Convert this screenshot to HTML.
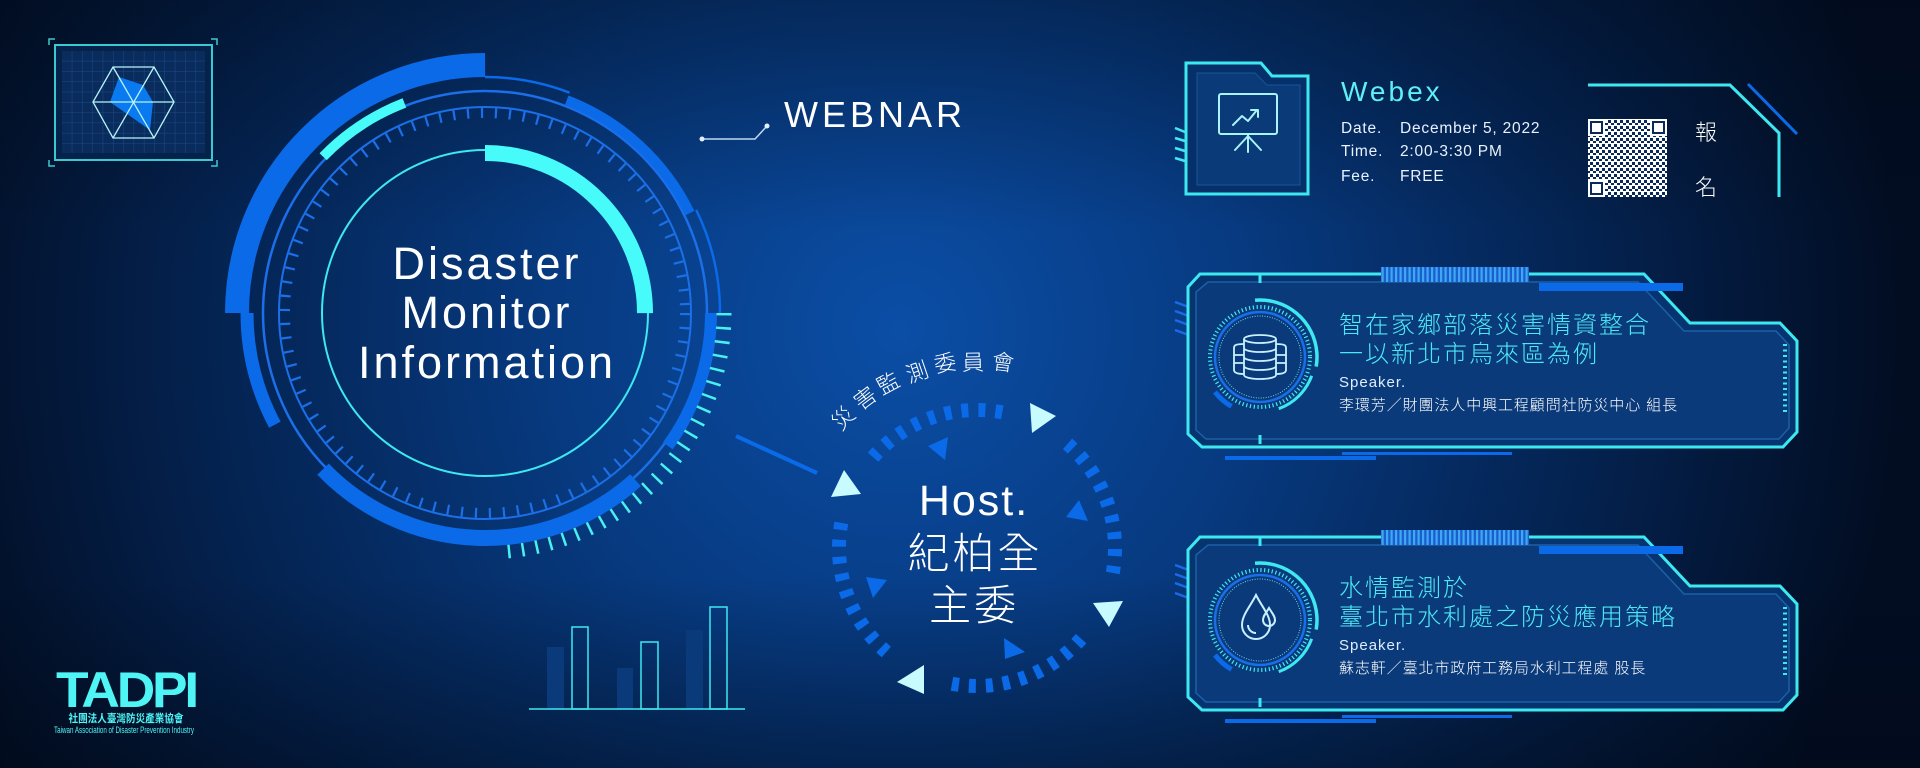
<!DOCTYPE html>
<html><head><meta charset="utf-8"><style>
html,body{margin:0;padding:0;background:#031330;}
svg{display:block}
text{font-family:"Liberation Sans","Noto Sans CJK TC",sans-serif}
.cjk{font-family:"Liberation Sans","Noto Sans CJK TC",sans-serif;font-weight:300}
</style></head><body>
<svg width="1920" height="768" viewBox="0 0 1920 768" xmlns="http://www.w3.org/2000/svg">
<defs>
<radialGradient id="bg" cx="900" cy="330" r="1000" gradientUnits="userSpaceOnUse">
<stop offset="0" stop-color="#0b4ea6"/><stop offset="0.35" stop-color="#073a80"/><stop offset="0.7" stop-color="#04224f"/><stop offset="1" stop-color="#020d22"/>
</radialGradient>
<linearGradient id="vd" x1="0" y1="0" x2="0" y2="1"><stop offset="0" stop-color="#000814" stop-opacity="0.35"/><stop offset="0.3" stop-color="#000814" stop-opacity="0"/><stop offset="0.75" stop-color="#000814" stop-opacity="0"/><stop offset="1" stop-color="#000814" stop-opacity="0.4"/></linearGradient>
<pattern id="grid" width="10.3" height="10.3" patternUnits="userSpaceOnUse" x="62" y="51"><path d="M10.3 0V10.3H0" fill="none" stroke="#1a4a8a" stroke-width="1"/></pattern>
<pattern id="stripe" width="4.5" height="20" patternUnits="userSpaceOnUse"><rect width="4.5" height="20" fill="#1a5fd0"/><rect width="2.2" height="20" fill="#3fa8f0"/></pattern>
<pattern id="qr" width="6" height="6" patternUnits="userSpaceOnUse"><rect width="6" height="6" fill="#ffffff"/><rect width="3" height="3" fill="#0a2a5a"/><rect x="3" y="3" width="3" height="2" fill="#0a2a5a"/></pattern>
<clipPath id="wedge"><polygon points="485,313 820,313 820,660 502,660"/></clipPath>
</defs>
<rect width="1920" height="768" fill="url(#bg)"/>
<rect width="1920" height="768" fill="url(#vd)"/>

<g>
<path d="M49,45V39H55 M211,39H217V45 M49,160V166H55 M211,166H217V160" fill="none" stroke="#3cc8d0" stroke-width="1.5"/>
<rect x="55" y="45" width="157" height="115" fill="#05224a" stroke="#3cc8d0" stroke-width="2"/>
<rect x="62" y="51" width="143" height="102" fill="#0a2c5c"/>
<rect x="62" y="51" width="143" height="102" fill="url(#grid)"/>
<polygon points="119,77 143,85 153,102 150,130 110,102" fill="#0a7af0"/>
<g fill="none" stroke="#b8f4f8" stroke-width="1.3">
<polygon points="113,67 154,67 174,102 154,138 113,138 93,102"/>
<path d="M93,102H174 M113,67L154,138 M154,67L113,138"/>
</g></g>

<g fill="none">
<circle cx="485" cy="313" r="163" stroke="#3ee8f0" stroke-width="2"/>
<circle cx="485" cy="313" r="160" stroke="#48fbfb" stroke-width="16" stroke-dasharray="251.3 2000" transform="rotate(-90 485 313)"/>
<circle cx="485" cy="313" r="200" stroke="#1b6fe8" stroke-width="10" stroke-dasharray="2.2 11.8"/>
<circle cx="485" cy="313" r="206" stroke="#1b6fe8" stroke-width="2"/>
<circle cx="485" cy="313" r="222" stroke="#1b6fe8" stroke-width="2.5"/>
<circle cx="485" cy="313" r="248" stroke="#0a6ae8" stroke-width="24" stroke-dasharray="389.6 3000" transform="rotate(180 485 313)"/>
<circle cx="485" cy="313" r="238" stroke="#0a6ae8" stroke-width="13" stroke-dasharray="116.3 3000" transform="rotate(152 485 313)"/>
<circle cx="485" cy="313" r="236" stroke="#0a6ae8" stroke-width="2.5" stroke-dasharray="86.5 3000" transform="rotate(-90 485 313)"/>
<circle cx="485" cy="313" r="228" stroke="#0a6ae8" stroke-width="10" stroke-dasharray="171.1 3000" transform="rotate(-69 485 313)"/>
<circle cx="485" cy="313" r="235" stroke="#0a6ae8" stroke-width="2.5" stroke-dasharray="106.6 3000" transform="rotate(-26 485 313)"/>
<circle cx="485" cy="313" r="226" stroke="#0a6ae8" stroke-width="12" stroke-dasharray="142 3000" transform="rotate(0 485 313)"/>
<circle cx="485" cy="313" r="239" stroke="#48f0f0" stroke-width="15" stroke-dasharray="2.5 11.5" clip-path="url(#wedge)"/>
<circle cx="485" cy="313" r="225" stroke="#0a6ae8" stroke-width="16" stroke-dasharray="345.6 3000" transform="rotate(48 485 313)"/>
<circle cx="485" cy="313" r="225" stroke="#48fbfb" stroke-width="10" stroke-dasharray="98.2 3000" transform="rotate(224 485 313)"/>
</g>
<g fill="#ffffff" font-size="45" text-anchor="middle" letter-spacing="3">
<text x="487" y="279">Disaster</text>
<text x="487" y="328">Monitor</text>
<text x="487" y="378">Information</text>
</g>

<path d="M702,139H755L767,126" fill="none" stroke="#c0d8f0" stroke-width="1.5"/>
<circle cx="702" cy="139" r="2.5" fill="#e0f0ff"/><circle cx="767" cy="126" r="2.5" fill="#e0f0ff"/>
<text x="784" y="127" fill="#ffffff" font-size="36" letter-spacing="4">WEBNAR</text>

<line x1="736" y1="436" x2="817" y2="473" stroke="#0a6ae8" stroke-width="4"/>

<circle cx="977" cy="548" r="138" fill="none" stroke="#0a6ae8" stroke-width="14" stroke-dasharray="7 10 7 10 7 10 7 10 7 10 7 10 7 10 7 10 7 73.8" transform="rotate(-49 977 548)"/>
<g fill="#c8fbff">
<polygon points="1030,403 1056,416 1032,433"/>
<polygon points="1093,603 1123,601 1109,627"/>
<polygon points="924,665 897,682 924,694"/>
<polygon points="844,470 831,497 861,494"/>
</g>
<g fill="#0a6ae8">
<polygon points="928,446 948,437 945,460"/>
<polygon points="1079,500 1066,517 1088,521"/>
<polygon points="1004,638 1025,652 1005,659"/>
<polygon points="866,577 887,580 873,598"/>
</g>
<g fill="#ffffff" text-anchor="middle">
<text x="974" y="515" font-size="43" letter-spacing="2">Host.</text>
<text class="cjk" x="975" y="568" font-size="42" letter-spacing="3">紀柏全</text>
<text class="cjk" x="974" y="620" font-size="42" letter-spacing="3">主委</text>
</g>
<g class="cjk" fill="#ffffff" font-size="22" text-anchor="middle">
<text x="843" y="426" transform="rotate(-46 843 418)">災</text>
<text x="865" y="406" transform="rotate(-37 865 398)">害</text>
<text x="888" y="391" transform="rotate(-28 888 383)">監</text>
<text x="917" y="380" transform="rotate(-19 917 372)">測</text>
<text x="945" y="371" transform="rotate(-10 945 363)">委</text>
<text x="973" y="370" transform="rotate(-1 973 362)">員</text>
<text x="1003" y="370" transform="rotate(7 1003 362)">會</text>
</g>

<g>
<rect x="547" y="647" width="17" height="62" fill="#0a3a7a"/>
<rect x="572" y="627" width="16" height="82" fill="none" stroke="#3ee8f0" stroke-width="1.5"/>
<rect x="617" y="668" width="16" height="41" fill="#0a3a7a"/>
<rect x="641" y="642" width="17" height="67" fill="none" stroke="#3ee8f0" stroke-width="1.5"/>
<rect x="686" y="630" width="17" height="79" fill="#0a3a7a"/>
<rect x="710" y="607" width="17" height="102" fill="none" stroke="#3ee8f0" stroke-width="1.5"/>
<line x1="529" y1="709" x2="745" y2="709" stroke="#3ee8f0" stroke-width="1.5"/>
</g>

<g fill="#4ff5f5">
<text x="126" y="707" font-size="50" font-weight="bold" text-anchor="middle" letter-spacing="-3" textLength="140" lengthAdjust="spacingAndGlyphs">TADPI</text>
<text x="126" y="722" font-size="11" font-weight="bold" text-anchor="middle" textLength="115" lengthAdjust="spacingAndGlyphs">社團法人臺灣防災產業協會</text>
<text x="124" y="733" font-size="9" text-anchor="middle" textLength="140" lengthAdjust="spacingAndGlyphs">Taiwan Association of Disaster Prevention Industry</text>
</g>

<g>
<path d="M1175,128L1185,132 M1175,138L1185,141 M1175,148L1185,151 M1175,158L1185,161" stroke="#3ee8f0" stroke-width="2.5"/>
<path d="M1186,63H1261L1272,76H1308V194H1186Z" fill="#06306a" stroke="#3ee8f0" stroke-width="3"/>
<path d="M1197,73H1255L1267,85H1300V185H1197Z" fill="#0a3a78" stroke="#1a5498" stroke-width="1"/>
<g fill="none" stroke="#a8f4f8" stroke-width="2" stroke-linejoin="round" stroke-linecap="round">
<rect x="1219" y="94" width="58" height="40" rx="2"/>
<path d="M1233,125L1242,116L1248,121L1257,110M1251,110H1258V117"/>
<path d="M1248,134V152M1248,136L1235,150M1248,136L1261,150"/>
</g>
</g>
<text x="1341" y="101" fill="#5ef0f5" font-size="28" letter-spacing="3">Webex</text>
<g fill="#e8f2ff" font-size="15.5" letter-spacing="0.8">
<text x="1341" y="133">Date.</text><text x="1400" y="133">December 5, 2022</text>
<text x="1341" y="156">Time.</text><text x="1400" y="156">2:00-3:30 PM</text>
<text x="1341" y="181">Fee.</text><text x="1400" y="181">FREE</text>
</g>
<rect x="1588" y="119" width="79" height="78" fill="url(#qr)"/>
<g fill="#ffffff"><rect x="1588" y="119" width="17" height="17"/><rect x="1650" y="119" width="17" height="17"/><rect x="1588" y="180" width="17" height="17"/></g>
<g fill="none" stroke="#0a2a5a" stroke-width="2"><rect x="1591" y="122" width="11" height="11"/><rect x="1653" y="122" width="11" height="11"/><rect x="1591" y="183" width="11" height="11"/></g>
<g class="cjk" fill="#ffffff" font-size="22"><text x="1695" y="140">報</text><text x="1695" y="195">名</text></g>
<path d="M1588,85H1730L1779,133V197" fill="none" stroke="#3ee8f0" stroke-width="3"/>
<line x1="1748" y1="84" x2="1797" y2="134" stroke="#0a6ae8" stroke-width="3"/>

<g id="card1">
<path d="M1175,302L1197,310M1175,311L1197,319M1175,320L1197,328M1175,330L1197,338" stroke="#1a6ae8" stroke-width="2.5"/>
<path d="M1200,274H1644L1690,323H1780L1797,341V432L1783,447H1202L1188,434V287Z" fill="#06346f" stroke="#3ee8f0" stroke-width="3"/>
<path d="M1208,282H1638L1684,331H1776L1789,345V428L1779,439H1206L1196,430V292Z" fill="#0a3a7a" stroke="#1d5fa8" stroke-width="1.5"/>
<path d="M1260,274V283M1260,435V444" stroke="#3ee8f0" stroke-width="3"/>
<rect x="1381" y="267" width="148" height="15" fill="url(#stripe)"/>
<rect x="1539" y="283" width="144" height="8" fill="#0a6ae8"/>
<rect x="1225" y="456" width="151" height="4" fill="#0a6ae8"/>
<rect x="1342" y="452" width="170" height="3" fill="#0a6ae8"/>
<path d="M1785,344V414" stroke="#3ee8f0" stroke-width="4" stroke-dasharray="2 3.5"/>
<g fill="none">
<circle cx="1260" cy="357" r="57" stroke="#3ee8f0" stroke-width="3.5" stroke-dasharray="104 400" transform="rotate(-95 1260 357)"/>
<circle cx="1260" cy="357" r="57" stroke="#0a6ae8" stroke-width="5" stroke-dasharray="22 400" transform="rotate(120 1260 357)"/>
<circle cx="1260" cy="357" r="55" stroke="#3ee8f0" stroke-width="3" stroke-dasharray="48 400" transform="rotate(20 1260 357)"/>
<circle cx="1260" cy="357" r="50" stroke="#3ee8f0" stroke-width="4" stroke-dasharray="1.2 2.6"/>
<circle cx="1260" cy="357" r="45" stroke="#1a6ee8" stroke-width="2.5"/>
<circle cx="1260" cy="357" r="41" stroke="#6ad8f0" stroke-width="1" stroke-dasharray="1 1.5"/>
</g>
<g fill="none" stroke="#c8f0ff" stroke-width="1.8">
<ellipse cx="1260" cy="339" rx="16" ry="4"/>
<path d="M1244,339V375M1276,339V375M1244,375A16,4 0 0 0 1276,375M1244,348A16,4 0 0 0 1276,348M1244,357A16,4 0 0 0 1276,357M1244,366A16,4 0 0 0 1276,366"/>
<path d="M1244,344C1234,344 1234,346 1234,348V370C1234,373 1238,374 1244,374M1276,344C1286,344 1286,346 1286,348V370C1286,373 1282,374 1276,374M1234,355H1244M1234,363H1244M1276,355H1286M1276,363H1286"/>
</g>
<g class="cjk" fill="#4de8f5" font-size="24" letter-spacing="2">
<text x="1339" y="333">智在家鄉部落災害情資整合</text>
<text x="1339" y="362">一以新北市烏來區為例</text>
</g>
<text x="1339" y="387" fill="#dfefff" font-size="15" letter-spacing="1">Speaker.</text>
<text class="cjk" x="1339" y="410" fill="#ffffff" font-size="15" letter-spacing="0.9">李環芳／財團法人中興工程顧問社防災中心 組長</text>
</g>

<g transform="translate(0,263)">
<path d="M1175,302L1197,310M1175,311L1197,319M1175,320L1197,328M1175,330L1197,338" stroke="#1a6ae8" stroke-width="2.5"/>
<path d="M1200,274H1644L1690,323H1780L1797,341V432L1783,447H1202L1188,434V287Z" fill="#06346f" stroke="#3ee8f0" stroke-width="3"/>
<path d="M1208,282H1638L1684,331H1776L1789,345V428L1779,439H1206L1196,430V292Z" fill="#0a3a7a" stroke="#1d5fa8" stroke-width="1.5"/>
<path d="M1260,274V283M1260,435V444" stroke="#3ee8f0" stroke-width="3"/>
<rect x="1381" y="267" width="148" height="15" fill="url(#stripe)"/>
<rect x="1539" y="283" width="144" height="8" fill="#0a6ae8"/>
<rect x="1225" y="456" width="151" height="4" fill="#0a6ae8"/>
<rect x="1342" y="452" width="170" height="3" fill="#0a6ae8"/>
<path d="M1785,344V414" stroke="#3ee8f0" stroke-width="4" stroke-dasharray="2 3.5"/>
<g fill="none">
<circle cx="1260" cy="357" r="57" stroke="#3ee8f0" stroke-width="3.5" stroke-dasharray="104 400" transform="rotate(-95 1260 357)"/>
<circle cx="1260" cy="357" r="57" stroke="#0a6ae8" stroke-width="5" stroke-dasharray="22 400" transform="rotate(120 1260 357)"/>
<circle cx="1260" cy="357" r="55" stroke="#3ee8f0" stroke-width="3" stroke-dasharray="48 400" transform="rotate(20 1260 357)"/>
<circle cx="1260" cy="357" r="50" stroke="#3ee8f0" stroke-width="4" stroke-dasharray="1.2 2.6"/>
<circle cx="1260" cy="357" r="45" stroke="#1a6ee8" stroke-width="2.5"/>
<circle cx="1260" cy="357" r="41" stroke="#6ad8f0" stroke-width="1" stroke-dasharray="1 1.5"/>
</g>
<g fill="none" stroke="#c8f0ff" stroke-width="2">
<path d="M1256,332C1250,344 1242,352 1242,362A14,14 0 0 0 1270,362C1270,352 1262,344 1256,332Z"/>
<path d="M1248,362A8,8 0 0 0 1256,370"/>
<path d="M1269,345C1266,350 1263,353 1263,357A6,6 0 0 0 1275,357C1275,353 1272,350 1269,345Z"/>
</g>
<g class="cjk" fill="#4de8f5" font-size="24" letter-spacing="2">
<text x="1339" y="333">水情監測於</text>
<text x="1339" y="362">臺北市水利處之防災應用策略</text>
</g>
<text x="1339" y="387" fill="#dfefff" font-size="15" letter-spacing="1">Speaker.</text>
<text class="cjk" x="1339" y="410" fill="#ffffff" font-size="15" letter-spacing="0.9">蘇志軒／臺北市政府工務局水利工程處 股長</text>
</g>
</svg>
</body></html>
